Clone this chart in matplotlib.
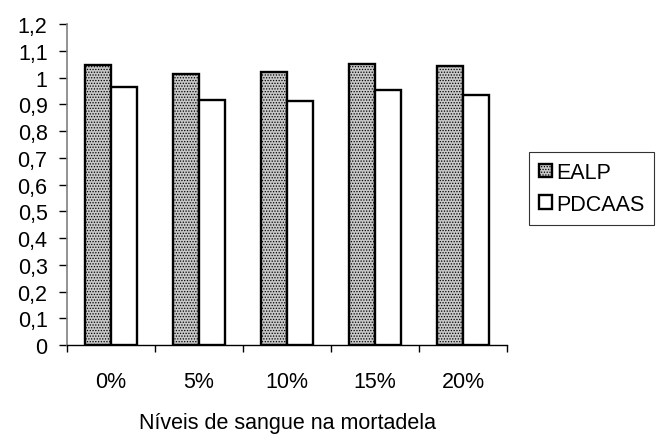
import matplotlib
matplotlib.use("Agg")
import matplotlib.pyplot as plt
import numpy as np

plt.rcParams["font.family"] = ["Liberation Sans", "DejaVu Sans"]
plt.rcParams["hatch.linewidth"] = 0.6

categories = ["0%", "5%", "10%", "15%", "20%"]
ealp = [1.048, 1.013, 1.019, 1.050, 1.042]
pdcaas = [0.964, 0.917, 0.912, 0.952, 0.936]
yticks = [0, 0.1, 0.2, 0.3, 0.4, 0.5, 0.6, 0.7, 0.8, 0.9, 1.0, 1.1, 1.2]
ytick_labels = ["0", "0,1", "0,2", "0,3", "0,4", "0,5", "0,6", "0,7", "0,8", "0,9", "1", "1,1", "1,2"]

fs = 15.5

fig = plt.figure(figsize=(6.61, 4.35), dpi=100)
ax = fig.add_axes([0.1014, 0.2046, 0.6657, 0.7379])

x = np.arange(len(categories))
w = 0.295
ax.bar(x - w / 2, ealp, w, facecolor="#c8c8c8", edgecolor="black",
       linewidth=1.7, hatch="......", label="EALP")
ax.bar(x + w / 2, pdcaas, w, facecolor="white", edgecolor="black",
       linewidth=1.7, label="PDCAAS")

ax.set_xlim(-0.5, len(categories) - 0.5)
ax.set_ylim(0, 1.2)
ax.set_yticks(yticks)
ax.set_yticklabels(ytick_labels, fontsize=fs)

# ticks at category boundaries, labels at centers
ax.set_xticks(np.arange(len(categories) + 1) - 0.5)
ax.set_xticklabels([])
ax.set_xticks(x, minor=True)
ax.set_xticklabels(categories, minor=True, fontsize=fs)
ax.tick_params(axis="x", which="minor", length=0, pad=19)
ax.tick_params(axis="x", which="major", direction="out", length=5, width=1)
ax.tick_params(axis="y", direction="out", length=6, width=1, pad=8)

ax.spines["top"].set_visible(False)
ax.spines["right"].set_visible(False)
ax.spines["left"].set_color("#808080")
ax.spines["left"].set_linewidth(1.2)
ax.spines["bottom"].set_linewidth(1)

ax.set_xlabel("Níveis de sangue na mortadela", fontsize=fs, labelpad=14)

leg = ax.legend(loc="upper left", bbox_to_anchor=(1.05, 0.60), frameon=True,
                fancybox=False, edgecolor="black", fontsize=fs,
                handlelength=0.6, handleheight=0.6, handletextpad=0.2,
                labelspacing=0.5, borderpad=0.45, borderaxespad=0)
leg.get_frame().set_linewidth(0.8)

fig.savefig("out.png", dpi=100)
